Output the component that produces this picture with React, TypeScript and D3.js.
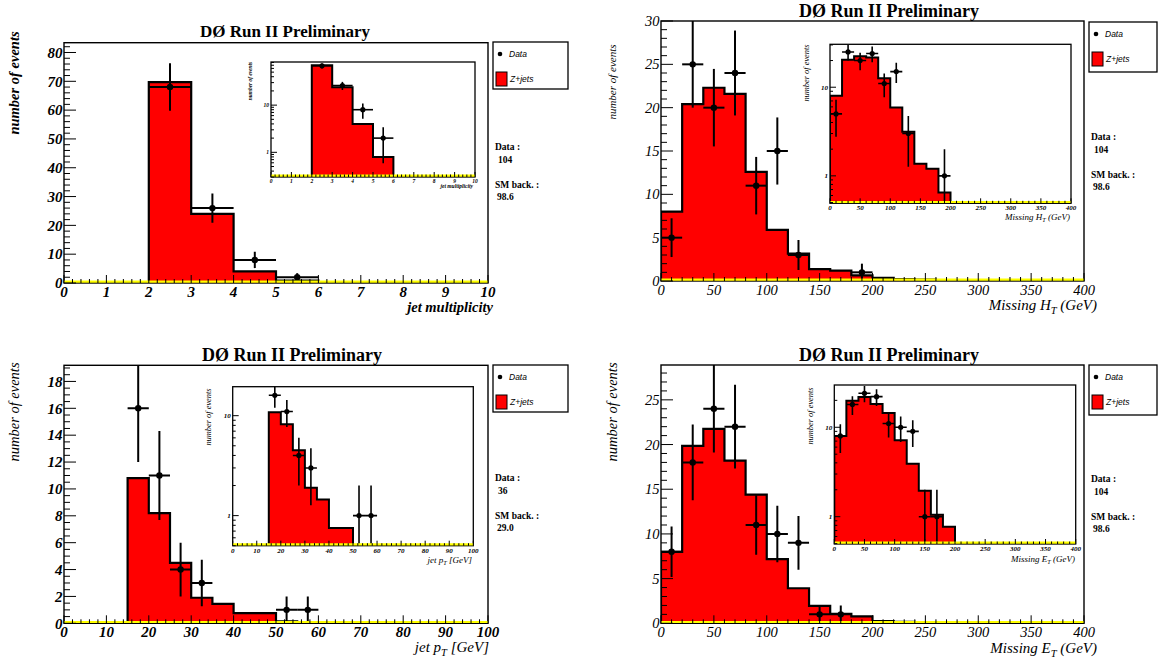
import React from 'react';
import * as d3 from 'd3';

const SERIF = "'Liberation Serif','Times New Roman',serif";
const SANS = "'Liberation Sans',Arial,sans-serif";

// ---------- Panel 1: jet multiplicity ----------
const njetEdges = [0, 1, 2, 3, 4, 5, 6, 7, 8, 9, 10];
const njetMC = [0, 0, 69.7, 24, 4, 0.8, 0, 0, 0, 0];
const njetDataX = [2.5, 3.5, 4.5, 5.5];
const njetDataY = [68, 26, 8, 2];

// ---------- Panel 2: missing HT ----------
const mhtEdges = [0, 20, 40, 60, 80, 100, 120, 140, 160, 180, 200, 220, 240, 260, 280, 300, 320, 340, 360, 380, 400];
const mhtMC = [8.0, 20.4, 22.3, 21.6, 12.6, 5.9, 3.15, 1.37, 1.2, 0.65, 0.35, 0.22, 0.15, 0.1, 0.05, 0, 0, 0, 0, 0];
const mhtDataX = [10, 30, 50, 70, 90, 110, 130, 190];
const mhtDataY = [5, 25, 20, 24, 11, 15, 3, 1];

// ---------- Panel 3: jet pT ----------
const jptEdges = [0, 5, 10, 15, 20, 25, 30, 35, 40, 45, 50, 55, 60, 65, 70, 75, 80, 85, 90, 95, 100];
const jptMC = [0, 0, 0, 10.8, 8.2, 4.5, 1.9, 1.45, 0.75, 0.75, 0.15, 0.05, 0.03, 0, 0, 0, 0, 0, 0, 0];
const jptDataX = [17.5, 22.5, 27.5, 32.5, 52.5, 57.5];
const jptDataY = [16, 11, 4, 3, 1, 1];

// ---------- Panel 4: missing ET ----------
const metEdges = [0, 20, 40, 60, 80, 100, 120, 140, 160, 180, 200, 220, 240, 260, 280, 300, 320, 340, 360, 380, 400];
const metMC = [8.0, 19.85, 21.75, 18.2, 14.4, 7.17, 3.92, 1.95, 1.05, 0.77, 0.26, 0.15, 0.1, 0.05, 0.03, 0, 0, 0, 0, 0];
const metDataX = [10, 30, 50, 70, 90, 110, 130, 150, 170];
const metDataY = [8, 18, 24, 22, 11, 10, 9, 1, 1];

const statLabels = ['Data   :', 'SM back. :'];
const statValues = [['104', '98.6'], ['104', '98.6'], ['36', '29.0'], ['104', '98.6']];

type PlotProps = {
  id: string;
  frame: [number, number, number, number];
  xDomain: [number, number];
  yDomain: [number, number];
  log?: boolean;
  xMajor: number;
  xMinor: number;
  yMajor?: number;
  yMinor?: number;
  edges: number[];
  mc: number[];
  dx: number[];
  dy: number[];
  inset?: boolean;
  tickFont: number;
  tickWeight: string;
  xLabelDy: number;
};

function Plot(p: PlotProps) {
  const [x0, y0, x1, y1] = p.frame;
  const x = d3.scaleLinear().domain(p.xDomain).range([x0, x1]);
  const ylin = d3.scaleLinear().domain(p.yDomain).range([y1, y0]);
  const ylog = d3.scaleLog().domain(p.yDomain).range([y1, y0]);
  const ymin = p.yDomain[0];
  const Y = (v: number) => {
    if (p.log) return v <= ymin ? y1 : Math.max(y0 - 30, ylog(v));
    return ylin(v);
  };
  let d = `M${x(p.edges[0])},${y1}`;
  p.mc.forEach((v, i) => {
    d += `L${x(p.edges[i])},${Y(v)}L${x(p.edges[i + 1])},${Y(v)}`;
  });
  d += `L${x(p.edges[p.edges.length - 1])},${y1}`;

  const half = (p.edges[1] - p.edges[0]) / 2;
  const r = p.inset ? 2.6 : 3.2;
  const lw = p.inset ? 1.6 : 2;

  const nx = Math.round((p.xDomain[1] - p.xDomain[0]) / p.xMinor);
  const xt = d3.range(nx + 1).map((i) => p.xDomain[0] + i * p.xMinor);
  const isMaj = (v: number, s: number) => Math.abs(v / s - Math.round(v / s)) < 1e-6;
  const xMajLen = p.inset ? 5 : 8;
  const xMinLen = p.inset ? 2.5 : 4;

  let yTicks: { v: number; major: boolean; label?: string }[] = [];
  if (p.log) {
    yTicks = ylog.ticks().filter((v) => v >= p.yDomain[0] && v <= p.yDomain[1]).map((v) => {
      const lg = Math.log10(v);
      const major = Math.abs(lg - Math.round(lg)) < 1e-6;
      return { v, major, label: major ? String(v) : undefined };
    });
  } else {
    const ny = Math.floor((p.yDomain[1] - p.yDomain[0]) / (p.yMinor as number) + 1e-6);
    yTicks = d3.range(ny + 1).map((i) => {
      const v = p.yDomain[0] + i * (p.yMinor as number);
      const major = isMaj(v, p.yMajor as number);
      return { v, major, label: major ? String(Math.round(v)) : undefined };
    });
  }
  const yMajLen = p.inset ? 6 : 12;
  const yMinLen = p.inset ? 3 : 6;
  const yy = (v: number) => (p.log ? ylog(v) : ylin(v));

  return (
    <g>
      <defs>
        <clipPath id={p.id}>
          <rect x={x0} y={y0} width={x1 - x0} height={y1 - y0} />
        </clipPath>
      </defs>
      {p.inset && <rect x={x0} y={y0} width={x1 - x0} height={y1 - y0} fill="#fff" />}
      <g clipPath={`url(#${p.id})`}>
        <path d={d + 'Z'} fill="#ff0000" stroke="none" />
        <path d={d} fill="none" stroke="#000" strokeWidth={p.inset ? 2 : 2.2} />
        {p.dx.map((xc, i) => {
          const v = p.dy[i];
          const e = Math.sqrt(v);
          const lo = v - e;
          const ylo = p.log ? (lo <= ymin ? y1 : ylog(lo)) : ylin(lo);
          const yhi = Y(v + e);
          return (
            <g key={i}>
              <line x1={x(xc)} x2={x(xc)} y1={ylo} y2={yhi} stroke="#000" strokeWidth={lw} />
              <line x1={x(xc - half)} x2={x(xc + half)} y1={Y(v)} y2={Y(v)} stroke="#000" strokeWidth={lw} />
              <circle cx={x(xc)} cy={Y(v)} r={r} fill="#000" />
            </g>
          );
        })}
      </g>
      <rect x={x0} y={y0} width={x1 - x0} height={y1 - y0} fill="none" stroke="#000" strokeWidth={p.inset ? 1.3 : 1.4} />
      <line x1={x0} x2={x1} y1={y1 - 1.3} y2={y1 - 1.3} stroke="#ffff00" strokeWidth={2.2} />
      {xt.map((v, i) => {
        const maj = isMaj(v, p.xMajor);
        return (
          <line key={'xt' + i} x1={x(v)} x2={x(v)} y1={y1} y2={y1 - (maj ? xMajLen : xMinLen)} stroke="#000" strokeWidth={1} />
        );
      })}
      {xt.filter((v) => isMaj(v, p.xMajor)).map((v, i) => (
        <text key={'xl' + i} x={x(v)} y={y1 + p.xLabelDy} textAnchor="middle" fontFamily={SERIF}
          fontStyle="italic" fontWeight={p.tickWeight} fontSize={p.tickFont}>{String(v)}</text>
      ))}
      {yTicks.map((t, i) => (
        <line key={'yt' + i} x1={x0} x2={x0 + (t.major ? yMajLen : yMinLen)} y1={yy(t.v)} y2={yy(t.v)} stroke="#000" strokeWidth={1} />
      ))}
      {yTicks.filter((t) => t.label).map((t, i) => (
        <text key={'yl' + i} x={x0 - (p.inset ? 2 : 1.5)} y={yy(t.v)} dy="0.35em" textAnchor="end" fontFamily={SERIF}
          fontStyle="italic" fontWeight={p.tickWeight} fontSize={p.tickFont}>{t.label}</text>
      ))}
    </g>
  );
}

function AxisTitle({ x, y, size, weight, main, sub, rest }: any) {
  return (
    <text x={x} y={y} textAnchor="end" fontFamily={SERIF} fontStyle="italic" fontWeight={weight} fontSize={size}>
      {main}
      {sub && <tspan fontSize={size * 0.7} dy={size * 0.25}>{sub}</tspan>}
      {rest && <tspan dy={sub ? -size * 0.25 : 0}>{rest}</tspan>}
    </text>
  );
}

function YTitle({ x, y, size, weight }: any) {
  return (
    <text transform={`translate(${x},${y}) rotate(-90)`} textAnchor="middle" dy="0.35em" fontFamily={SERIF}
      fontStyle="italic" fontWeight={weight} fontSize={size}>number of events</text>
  );
}

function Legend({ x0, y0, w, h }: any) {
  return (
    <g>
      <rect x={x0} y={y0} width={w} height={h} fill="#fff" stroke="#000" strokeWidth={1.3} />
      <circle cx={x0 + 7} cy={y0 + 12} r={2.3} fill="#000" />
      <text x={x0 + 16} y={y0 + 15} fontFamily={SANS} fontStyle="italic" fontSize={8.5}>Data</text>
      <rect x={x0 + 3} y={y0 + 30} width={11} height={14} fill="#ff0000" stroke="#000" strokeWidth={1} />
      <text x={x0 + 17} y={y0 + 40} fontFamily={SANS} fontStyle="italic" fontSize={8.5}>Z+jets</text>
    </g>
  );
}

function Stats({ x, y, vals }: any) {
  const st = { fontFamily: SERIF, fontWeight: 'bold', fontSize: 9.5 } as any;
  return (
    <g>
      <text x={x} y={y} {...st}>{statLabels[0]}</text>
      <text x={x + 3} y={y + 13} {...st}>{vals[0]}</text>
      <text x={x} y={y + 38} {...st}>{statLabels[1]}</text>
      <text x={x + 2} y={y + 50} {...st}>{vals[1]}</text>
    </g>
  );
}

function Title({ x, y, size }: any) {
  return (
    <text x={x} y={y} textAnchor="middle" fontFamily={SERIF} fontWeight="bold" fontSize={size}>DØ Run II Preliminary</text>
  );
}

export default function App() {
  return (
    <svg width={1159} height={661} style={{ position: 'absolute', left: 0, top: 0, background: '#fff' }}>
      <rect x={0} y={0} width={1159} height={661} fill="#fff" />

      {/* Panel 1 */}
      <Title x={285} y={37} size={17} />
      <Plot id="c1" frame={[64, 42.7, 488, 283]} xDomain={[0, 10]} yDomain={[0, 83.4]} xMajor={1} xMinor={0.2}
        yMajor={10} yMinor={2} edges={njetEdges} mc={njetMC} dx={njetDataX} dy={njetDataY}
        tickFont={15} tickWeight="bold" xLabelDy={14} />
      <Plot id="c1i" inset frame={[271, 62, 475, 177]} xDomain={[0, 10]} yDomain={[0.3, 82]} log xMajor={1} xMinor={0.2}
        edges={njetEdges} mc={njetMC} dx={njetDataX} dy={njetDataY} tickFont={5.5} tickWeight="bold" xLabelDy={6} />
      <YTitle x={14} y={83} size={14.5} weight="bold" />
      <YTitle x={250} y={81} size={5.4} weight="bold" />
      <AxisTitle x={493} y={312} size={14.5} weight="bold" main="jet multiplicity" />
      <AxisTitle x={473} y={188} size={5.5} weight="bold" main="jet multiplicity" />
      <Legend x0={493} y0={42} w={75} h={47} />
      <Stats x={495} y={150} vals={statValues[0]} />

      {/* Panel 2 */}
      <Title x={889} y={17} size={18} />
      <Plot id="c2" frame={[661, 21, 1084, 281]} xDomain={[0, 400]} yDomain={[0, 30]} xMajor={50} xMinor={10}
        yMajor={5} yMinor={1} edges={mhtEdges} mc={mhtMC} dx={mhtDataX} dy={mhtDataY}
        tickFont={14.5} tickWeight="normal" xLabelDy={13.5} />
      <Plot id="c2i" inset frame={[830, 44.3, 1071, 203.3]} xDomain={[0, 400]} yDomain={[0.49, 30.5]} log xMajor={50} xMinor={10}
        edges={mhtEdges} mc={mhtMC} dx={mhtDataX} dy={mhtDataY} tickFont={7} tickWeight="bold" xLabelDy={7} />
      <YTitle x={612} y={82} size={11} weight="normal" />
      <YTitle x={806} y={73} size={8.4} weight="normal" />
      <AxisTitle x={1097} y={310} size={15} weight="normal" main="Missing H" sub="T" rest=" (GeV)" />
      <AxisTitle x={1070} y={220} size={9} weight="normal" main="Missing H" sub="T" rest=" (GeV)" />
      <Legend x0={1089} y0={22} w={68} h={50} />
      <Stats x={1091} y={140} vals={statValues[1]} />

      {/* Panel 3 */}
      <Title x={292} y={361} size={18} />
      <Plot id="c3" frame={[64, 365.3, 488, 623.3]} xDomain={[0, 100]} yDomain={[0, 19.2]} xMajor={10} xMinor={2}
        yMajor={2} yMinor={0.5} edges={jptEdges} mc={jptMC} dx={jptDataX} dy={jptDataY}
        tickFont={15} tickWeight="bold" xLabelDy={14} />
      <Plot id="c3i" inset frame={[232.7, 386.7, 473.3, 545.7]} xDomain={[0, 100]} yDomain={[0.5, 19.5]} log xMajor={10} xMinor={2}
        edges={jptEdges} mc={jptMC} dx={jptDataX} dy={jptDataY} tickFont={7} tickWeight="bold" xLabelDy={7} />
      <YTitle x={14} y={412} size={14.5} weight="normal" />
      <YTitle x={208} y={417} size={8.4} weight="normal" />
      <AxisTitle x={489} y={652} size={15} weight="normal" main="jet p" sub="T" rest=" [GeV]" />
      <AxisTitle x={472} y={563} size={9} weight="normal" main="jet p" sub="T" rest=" [GeV]" />
      <Legend x0={493} y0={365} w={75} h={47} />
      <Stats x={495} y={481} vals={statValues[2]} />

      {/* Panel 4 */}
      <Title x={889} y={361} size={18} />
      <Plot id="c4" frame={[661, 365, 1084, 623.3]} xDomain={[0, 400]} yDomain={[0, 28.9]} xMajor={50} xMinor={10}
        yMajor={5} yMinor={1} edges={metEdges} mc={metMC} dx={metDataX} dy={metDataY}
        tickFont={14.5} tickWeight="normal" xLabelDy={14} />
      <Plot id="c4i" inset frame={[834.3, 385, 1075.7, 544]} xDomain={[0, 400]} yDomain={[0.495, 29.7]} log xMajor={50} xMinor={10}
        edges={metEdges} mc={metMC} dx={metDataX} dy={metDataY} tickFont={7} tickWeight="bold" xLabelDy={7} />
      <YTitle x={612} y={412} size={14.5} weight="normal" />
      <YTitle x={810} y={416} size={8.4} weight="normal" />
      <AxisTitle x={1097} y={653} size={15} weight="normal" main="Missing E" sub="T" rest=" (GeV)" />
      <AxisTitle x={1075} y={562} size={9} weight="normal" main="Missing E" sub="T" rest=" (GeV)" />
      <Legend x0={1089} y0={365} w={68} h={50} />
      <Stats x={1091} y={482} vals={statValues[3]} />
    </svg>
  );
}
